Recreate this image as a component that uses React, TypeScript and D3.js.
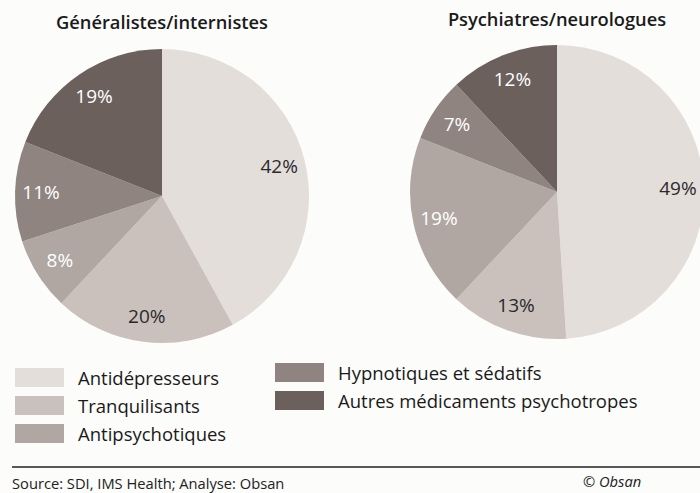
import React from 'react'
import * as d3 from 'd3'

const categories = [
  'Antidépresseurs',
  'Tranquilisants',
  'Antipsychotiques',
  'Hypnotiques et sédatifs',
  'Autres médicaments psychotropes',
]
const generalistes = [42, 20, 8, 11, 19]
const psychiatres = [49, 13, 19, 7, 12]
const titles = ['Généralistes/internistes', 'Psychiatres/neurologues']
const colors = ['#e4dedb', '#cac1bc', '#b1a7a2', '#8f8480', '#6b605c']
const labelColors = ['#2a2a2a', '#2a2a2a', '#ffffff', '#ffffff', '#ffffff']

const FONT = '"Open Sans", "Noto Sans", sans-serif'

type PieProps = { values: number[]; cx: number; cy: number; title: string; titleY: number }

function Pie({ values, cx, cy, title, titleY }: PieProps) {
  const radius = 147
  const pie = d3.pie<number>().sort(null).value((d) => d)
  const arc = d3.arc<d3.PieArcDatum<number>>().innerRadius(0).outerRadius(radius)
  const labelArc = d3.arc<d3.PieArcDatum<number>>().innerRadius(121).outerRadius(121)
  const arcs = pie(values)

  return (
    <g>
      <text x={cx} y={titleY} textAnchor="middle" fontFamily={FONT} fontWeight={600} fontSize={18.3} fill="#1a1a1a">
        {title}
      </text>
      <g transform={`translate(${cx},${cy})`}>
        {arcs.map((a, i) => (
          <path key={i} d={arc(a) || ''} fill={colors[i]} />
        ))}
        {arcs.map((a, i) => {
          const [x, y] = labelArc.centroid(a)
          return (
            <text
              key={'l' + i}
              x={x}
              y={y}
              dy="0.35em"
              textAnchor="middle"
              fontFamily={FONT}
              fontSize={19}
              fill={labelColors[i]}
            >
              {a.data}%
            </text>
          )
        })}
      </g>
    </g>
  )
}

export default function App() {
  // legend: first three items left column, remaining two right column
  const legendCols = [
    { x: 15, y: 368, items: [0, 1, 2] },
    { x: 275, y: 363, items: [3, 4] },
  ]

  return (
    <div style={{ position: 'absolute', left: 0, top: 0 }}>
      <svg width={700} height={493} style={{ display: 'block', background: '#fcfcfb' }}>
        <Pie values={generalistes} cx={162} cy={196} title={titles[0]} titleY={29} />
        <Pie values={psychiatres} cx={557} cy={192} title={titles[1]} titleY={26} />

        {legendCols.map((col, ci) =>
          col.items.map((idx, ri) => (
            <g key={`${ci}-${ri}`} transform={`translate(${col.x},${col.y + ri * 28})`}>
              <rect width={49} height={19} fill={colors[idx]} />
              <text x={63} y={17} fontFamily={FONT} fontSize={18.5} fill="#1a1a1a">
                {categories[idx]}
              </text>
            </g>
          ))
        )}

        <line x1={12} x2={700} y1={467} y2={467} stroke="#222" strokeWidth={1.5} />
        <text x={12} y={489} fontFamily={FONT} fontSize={14.7} fill="#222">
          Source: SDI, IMS Health; Analyse: Obsan
        </text>
        <text x={583} y={487} fontFamily={FONT} fontSize={14.7} fontStyle="italic" fill="#222">
          © Obsan
        </text>
      </svg>
    </div>
  )
}
